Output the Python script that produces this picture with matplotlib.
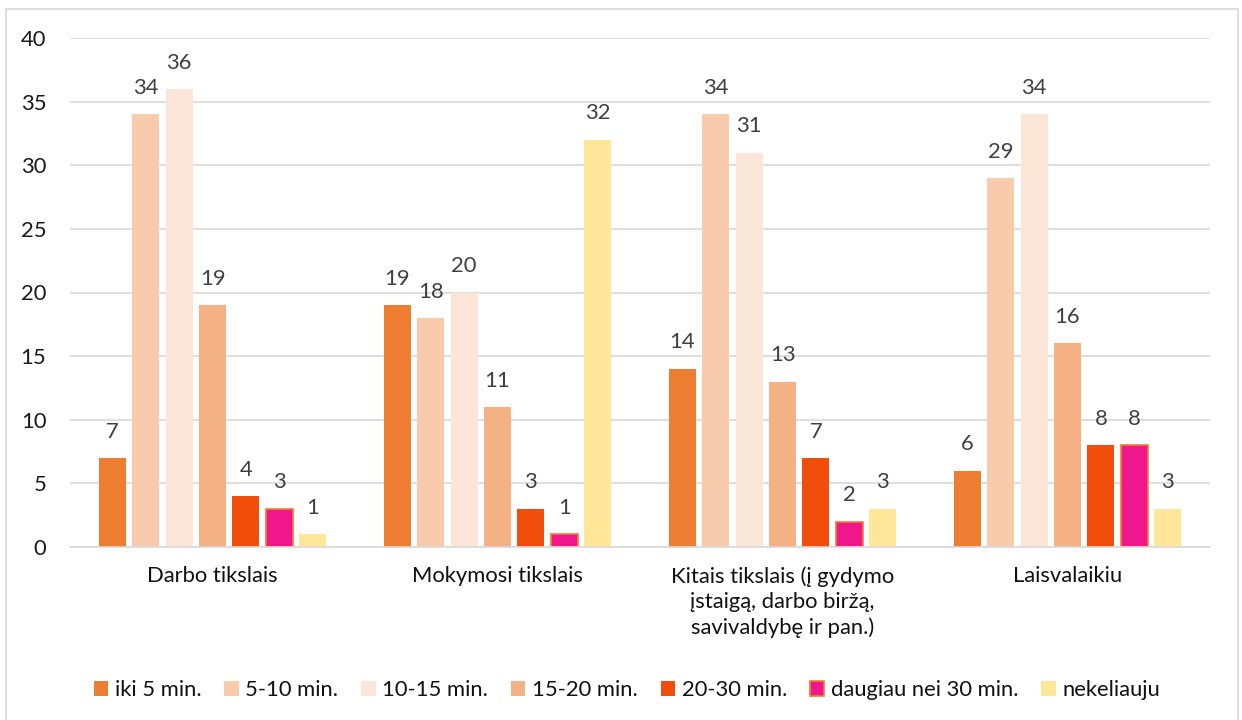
import matplotlib
matplotlib.use("Agg")
import matplotlib.pyplot as plt
import matplotlib.patches as mpatches
import numpy as np

plt.rcParams['font.family'] = ['Lato', 'DejaVu Sans']

categories = [
    "Darbo tikslais",
    "Mokymosi tikslais",
    "Kitais tikslais (į gydymo\nįstaigą, darbo biržą,\nsavivaldybę ir pan.)",
    "Laisvalaikiu",
]
series_names = ["iki 5 min.", "5-10 min.", "10-15 min.", "15-20 min.",
                "20-30 min.", "daugiau nei 30 min.", "nekeliauju"]
iki_5 = [7, 19, 14, 6]
min_5_10 = [34, 18, 34, 29]
min_10_15 = [36, 20, 31, 34]
min_15_20 = [19, 11, 13, 16]
min_20_30 = [4, 3, 7, 8]
daugiau_30 = [3, 1, 2, 8]
nekeliauju = [1, 32, 3, 3]
series_values = [iki_5, min_5_10, min_10_15, min_15_20, min_20_30, daugiau_30, nekeliauju]
y_ticks = [0, 5, 10, 15, 20, 25, 30, 35, 40]

colors = ["#ED7D31", "#F8CBAD", "#FBE5D6", "#F4B183", "#F04E0A", "#F0168C", "#FFE699"]
edges = [None, None, None, None, None, "#ED7D31", None]

FS = 15.8

W, H = 1242, 720
fig = plt.figure(figsize=(W / 100, H / 100), dpi=100)
ax = fig.add_axes([70 / W, 1 - 547 / H, (1210 - 70) / W, (547 - 38) / H])

x = np.arange(len(categories))
slot = 0.117
bar_w = 0.094
for i, (name, vals) in enumerate(zip(series_names, series_values)):
    pos = x + (i - 3) * slot
    kw = dict(color=colors[i], zorder=3)
    if edges[i]:
        kw.update(edgecolor=edges[i], linewidth=1.2)
    else:
        kw.update(linewidth=0)
    bars = ax.bar(pos, vals, bar_w, label=name, **kw)
    for b, v in zip(bars, vals):
        ax.annotate(str(v), (b.get_x() + b.get_width() / 2, v),
                    xytext=(0, 19), textcoords="offset points",
                    ha="center", va="center", fontsize=FS, color="#404040")

ax.set_xlim(-0.5, len(categories) - 0.5)
ax.set_ylim(0, 40)
ax.set_yticks(y_ticks)
ax.set_yticklabels([str(t) for t in y_ticks], fontsize=FS, color="#1a1a1a")
ax.set_xticks(x)
ax.set_xticklabels(categories, fontsize=FS, color="#111111", linespacing=1.32)
ax.tick_params(axis="y", length=0, pad=17)
ax.tick_params(axis="x", length=0, pad=14)
ax.yaxis.grid(True, color="#D9D9D9", linewidth=1.2, zorder=0)
ax.set_axisbelow(True)
for s in ["top", "right", "left"]:
    ax.spines[s].set_visible(False)
ax.spines["bottom"].set_color("#D9D9D9")
ax.spines["bottom"].set_linewidth(1.2)
ax.spines["bottom"].set_zorder(4)

leg = fig.legend(loc="center", bbox_to_anchor=(627 / W, 1 - 690 / H), ncol=7,
                 frameon=False, fontsize=FS, handlelength=0.65, handleheight=0.65,
                 handletextpad=0.3, columnspacing=1.05)
for t in leg.get_texts():
    t.set_color("#111111")

border = mpatches.Rectangle((6 / W, -0.01), (1238 - 6) / W, 1 - 9 / H + 0.01,
                            transform=fig.transFigure, fill=False,
                            edgecolor="#D9D9D9", linewidth=1.2)
fig.patches.append(border)

fig.savefig("out.png", dpi=100, facecolor="white")
